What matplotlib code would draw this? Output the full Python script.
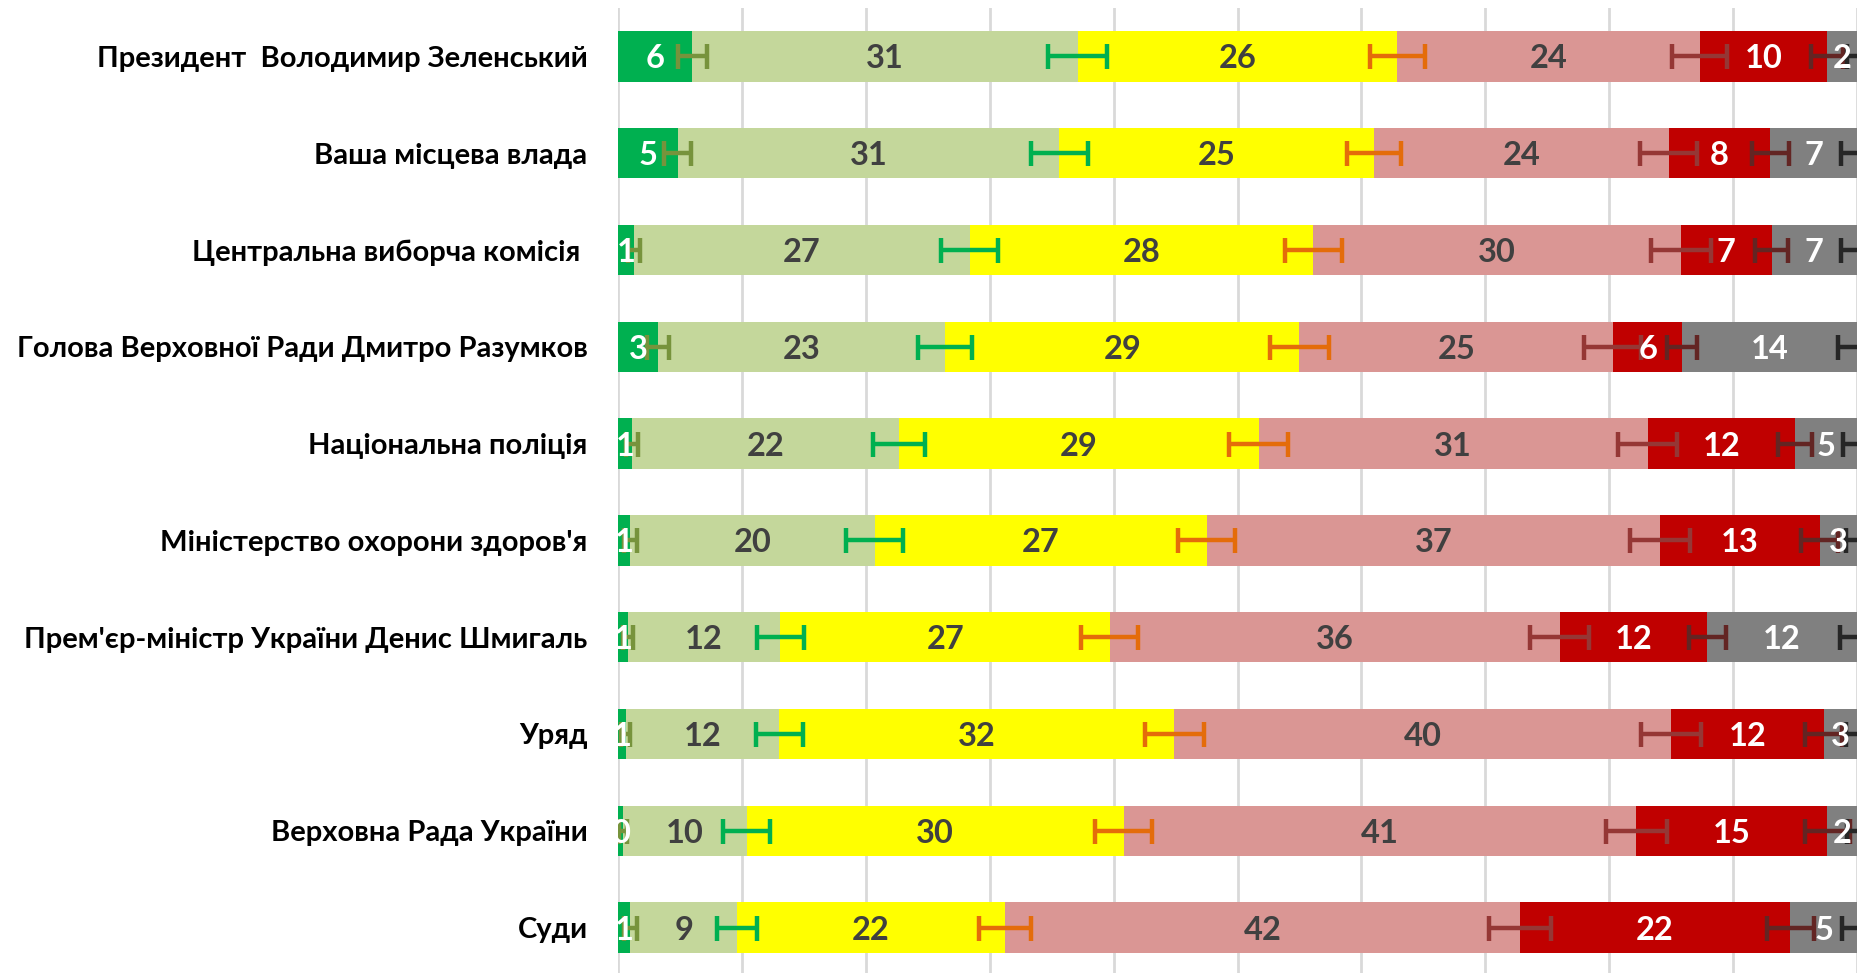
import numpy as np
import matplotlib.pyplot as plt

plt.rcParams['font.family'] = ['Lato', 'DejaVu Sans']

# Categories (top to bottom)
categories = [
    "Президент  Володимир Зеленський",
    "Ваша місцева влада",
    "Центральна виборча комісія ",
    "Голова Верховної Ради Дмитро Разумков",
    "Національна поліція",
    "Міністерство охорони здоров'я",
    "Прем'єр-міністр України Денис Шмигаль",
    "Уряд",
    "Верховна Рада України",
    "Суди",
]

# Shares, %
fully_trust = [6.0, 4.8, 1.3, 3.2, 1.1, 1.0, 0.8, 0.6, 0.4, 1.0]
rather_trust = [31.1, 30.8, 27.1, 23.2, 21.6, 19.7, 12.3, 12.4, 10.0, 8.6]
neutral = [25.8, 25.4, 27.7, 28.6, 29.0, 26.8, 26.6, 31.9, 30.4, 21.6]
rather_distrust = [24.4, 23.8, 29.7, 25.3, 31.4, 36.6, 36.3, 40.1, 41.4, 41.6]
fully_distrust = [10.3, 8.2, 7.3, 5.6, 11.9, 12.9, 11.9, 12.3, 15.4, 21.8]
hard_to_say = [2.4, 7.0, 6.9, 14.1, 5.0, 3.0, 12.1, 2.7, 2.4, 5.4]

# Error margins (+/- %) shown at the end of each segment
err_fully_trust = [1.2, 1.1, 0.5, 0.9, 0.5, 0.5, 0.4, 0.4, 0.3, 0.5]
err_rather_trust = [2.4, 2.3, 2.3, 2.2, 2.1, 2.3, 1.9, 1.9, 1.9, 1.6]
err_neutral = [2.2, 2.2, 2.3, 2.4, 2.4, 2.3, 2.3, 2.4, 2.3, 2.1]
err_rather_distrust = [2.2, 2.3, 2.4, 2.3, 2.4, 2.4, 2.4, 2.4, 2.5, 2.5]
err_fully_distrust = [1.3, 1.5, 1.3, 1.2, 1.4, 1.5, 1.5, 1.5, 1.8, 1.9]
err_hard_to_say = [0.8, 1.3, 1.3, 1.5, 1.1, 0.9, 1.4, 0.9, 0.8, 1.2]

series = [fully_trust, rather_trust, neutral, rather_distrust, fully_distrust, hard_to_say]
errors = [err_fully_trust, err_rather_trust, err_neutral, err_rather_distrust,
          err_fully_distrust, err_hard_to_say]
bar_colors = ['#00B050', '#C4D79B', '#FFFF00', '#DA9694', '#C00000', '#808080']
text_colors = ['white', '#404040', '#404040', '#404040', 'white', 'white']
err_colors = ['#77933C', '#00B050', '#E46C0A', '#953735', '#632523', '#262626']

fig = plt.figure(figsize=(18.6, 9.73), dpi=100)
ax = fig.add_axes([0.3323, -0.003, 0.6661, 0.9948])

y = np.arange(len(categories))
left = np.zeros(len(categories))
for vals, errs, bc, tc, ec in zip(series, errors, bar_colors, text_colors, err_colors):
    vals = np.array(vals)
    ax.barh(y, vals, left=left, height=0.52, color=bc, zorder=2)
    ax.errorbar(left + vals, y, xerr=errs, fmt='none', ecolor=ec,
                elinewidth=3.2, capsize=9, capthick=3.2, zorder=3)
    for yi, l, v in zip(y, left, vals):
        ax.text(l + v / 2, yi, f"{v:.0f}", ha='center', va='center_baseline',
                color=tc, fontsize=23.5, fontweight='bold', zorder=4)
    left = left + vals

ax.set_xlim(0, 100)
ax.set_ylim(len(categories) - 0.5, -0.5)
ax.set_xticks(np.arange(0, 101, 10))
ax.set_xticklabels([])
ax.tick_params(axis='x', length=0)
ax.set_yticks(y)
ax.set_yticklabels(categories, fontsize=21, fontweight='bold')
ax.tick_params(axis='y', length=0, pad=22)
ax.grid(axis='x', color='#D9D9D9', linewidth=2, zorder=0)
ax.set_axisbelow(True)
for s in ax.spines.values():
    s.set_visible(False)

fig.savefig('out.png', dpi=100)
